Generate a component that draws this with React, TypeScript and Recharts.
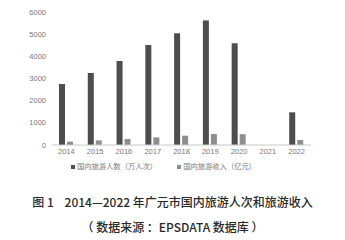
import { Bar, BarChart, Legend, XAxis, YAxis } from "recharts";

const years = ["2014", "2015", "2016", "2017", "2018", "2019", "2020", "2021", "2022"];
const visitors = [2750, 3250, 3790, 4510, 5040, 5620, 4590, 0, 1475];
const income = [150, 210, 270, 345, 420, 495, 490, 0, 225];
const yTicks = [0, 1000, 2000, 3000, 4000, 5000, 6000];

const data = years.map((year, i) => ({ year, visitors: visitors[i], income: income[i] }));

const tickStyle = { fontSize: 7.5, fill: "#777", fontFamily: "'Liberation Sans', Arial, sans-serif" };

export default function App() {
  return (
    <div style={{ position: "absolute", left: 0, top: 0, width: 345, height: 240, background: "#fff" }}>
      <BarChart
        width={345}
        height={181}
        data={data}
        margin={{ top: 12, right: 34, bottom: 0, left: 0 }}
        barSize={6}
        barGap={2}
      >
        <XAxis
          dataKey="year"
          tick={tickStyle}
          tickLine={false}
          tickSize={2}
          height={16}
          axisLine={{ stroke: "#c8c8c8" }}
        />
        <YAxis
          domain={[0, 6000]}
          ticks={yTicks}
          tick={tickStyle}
          tickLine={false}
          tickSize={4}
          axisLine={false}
          width={52}
        />
        <Legend
          verticalAlign="bottom"
          height={20}
          iconType="square"
          iconSize={4}
          wrapperStyle={{ fontSize: 7.3, color: "#777", fontFamily: "'Noto Sans CJK SC', sans-serif", paddingLeft: 18 }}
          formatter={(value: string) => <span style={{ color: "#777", marginLeft: -2, marginRight: 10 }}>{value}</span>}
        />
        <Bar dataKey="visitors" name="国内旅游人数（万人次）" fill="#4d4d4d" isAnimationActive={false} />
        <Bar dataKey="income" name="国内旅游收入（亿元）" fill="#8e8e8e" isAnimationActive={false} />
      </BarChart>
      <div
        style={{
          position: "absolute",
          top: 193,
          left: 0,
          width: 345,
          textAlign: "center",
          fontFamily: "'Noto Sans CJK SC', sans-serif",
          fontSize: 12,
          fontWeight: 500,
          color: "#2a2a2a",
          lineHeight: "17px",
        }}
      >
        <div style={{ whiteSpace: "pre" }}>{"图 1    2014—2022 年广元市国内旅游人次和旅游收入"}</div>
        <div style={{ marginTop: 8, whiteSpace: "pre" }}>{"（ 数据来源 ：EPSDATA 数据库 ）"}</div>
      </div>
    </div>
  );
}
